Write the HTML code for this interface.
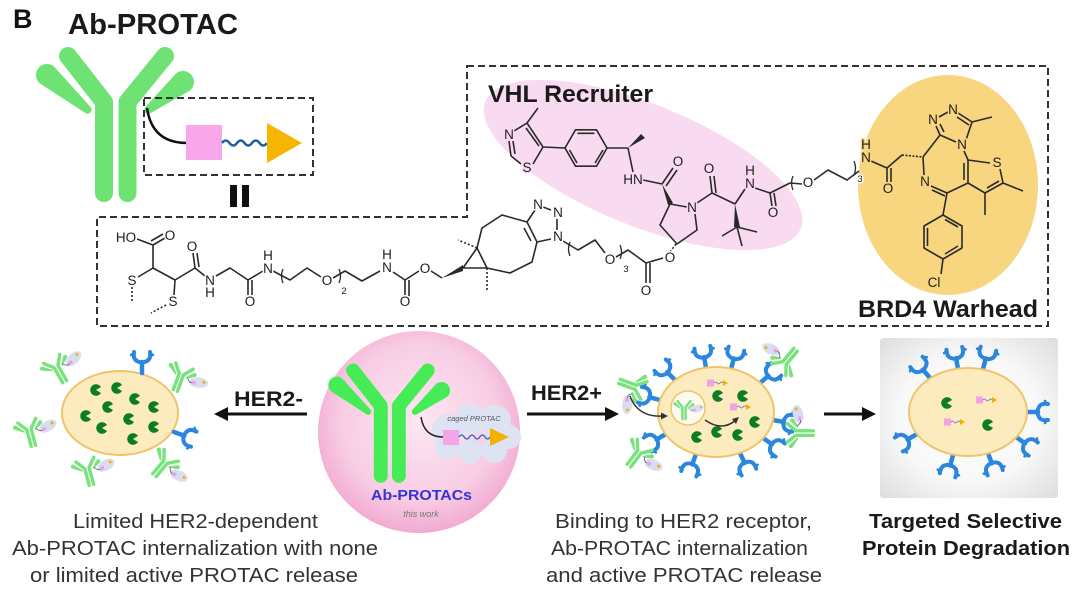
<!DOCTYPE html>
<html><head><meta charset="utf-8">
<style>
html,body{margin:0;padding:0;background:#fff;}
svg{display:block;}
text{font-family:"Liberation Sans",Arial,sans-serif;}
.a{font-size:13.5px;fill:#1e1e1e;text-anchor:middle;paint-order:stroke;stroke-width:3px;stroke-linejoin:round;}
.w{stroke:#fff;} .p{stroke:#f9dbf1;} .o{stroke:#f8d57f;}
.sm{font-size:9.5px;}
</style></head><body>
<svg width="1080" height="599" viewBox="0 0 1080 599" xmlns="http://www.w3.org/2000/svg">
<defs>
 <radialGradient id="pc" cx="50%" cy="45%" r="55%">
  <stop offset="0" stop-color="#fde6f2"/><stop offset="0.7" stop-color="#f8cde4"/><stop offset="1" stop-color="#f1aad1"/>
 </radialGradient>
 <radialGradient id="gb" cx="50%" cy="50%" r="72%">
  <stop offset="0" stop-color="#ffffff"/><stop offset="0.55" stop-color="#f8f8f8"/><stop offset="1" stop-color="#dcdcdc"/>
 </radialGradient>
 <g id="ab">
  <path d="M-61.9,-56.4 L-25.4,-16 A4,4 0 0 1 -30.6,-10 L-76.2,-39.6 A11,11 0 0 1 -61.9,-56.4 Z" stroke="none"/>
  <path d="M60.1,-49.6 L29.5,-16.1 A4,4 0 0 0 34.5,-9.9 L73.9,-32.4 A11,11 0 0 0 60.1,-49.6 Z" stroke="none"/>
  <path d="M-48,-67 L-12,-21 L-12,70 M11.5,70 L11.5,-21 L49,-67" fill="none" stroke-width="18" stroke-linecap="round" stroke-linejoin="round"/>
 </g>
 <g id="sab">
  <use href="#ab" transform="scale(0.19)" fill="#78e27c" stroke="#78e27c"/>
  <ellipse cx="19" cy="-2" rx="9.5" ry="5.2" fill="#d9ddf3" transform="rotate(-15 19 -2)"/>
  <path d="M7,-3 Q10,2 14,0" stroke="#555" stroke-width="0.7" fill="none"/>
  <rect x="13" y="-2" width="3.5" height="3.5" fill="#f39de4"/>
  <circle cx="24" cy="-4" r="1.5" fill="#f2b400"/>
 </g>
 <g id="rec" fill="none" stroke="#2a87dd" stroke-linecap="round" stroke-linejoin="round">
  <path d="M0,0 V-11" stroke-width="4.5"/>
  <path d="M-8,-21 Q-9,-14 -5,-12 Q0,-9 5,-12 Q9,-14 8,-21" stroke-width="4"/>
  <path d="M-8,-20 L-11,-18 M8,-20 L11,-18" stroke-width="2.5"/>
 </g>
 <path id="dot" d="M0,0 L5,-3 A5.8,5.8 0 1,0 5,3 Z" fill="#0c7d22"/>
 <g id="pay">
  <rect x="0" y="-3.5" width="7" height="7" fill="#f3a0e6"/>
  <path d="M7,0 q1.5,-2 3,0 t3,0 t3,0" stroke="#4a7cc0" stroke-width="0.8" fill="none"/>
  <path d="M16,-3 L21,0 L16,3 Z" fill="#f2b000"/>
 </g>
</defs>

<!-- Headings -->
<text x="13" y="28" font-size="27" font-weight="bold" fill="#111">B</text>
<text x="68" y="34" font-size="28.5" font-weight="bold" fill="#1a1a1a" textLength="170" lengthAdjust="spacingAndGlyphs">Ab-PROTAC</text>

<!-- top antibody -->
<use href="#ab" transform="translate(116,123)" fill="#6ee374" stroke="#6ee374"/>

<!-- small dashed box -->
<rect x="144" y="98" width="169" height="77" fill="none" stroke="#333" stroke-width="2" stroke-dasharray="7,4"/>
<path d="M147,108 Q152,143 187,143" stroke="#111" stroke-width="2.5" fill="none"/>
<rect x="186" y="125" width="36" height="35" fill="#f8a8ea"/>
<path d="M222,143 q3.75,-5 7.5,0 t7.5,0 t7.5,0 t7.5,0 t7.5,0 t7.5,0" stroke="#1d5fa0" stroke-width="2.5" fill="none"/>
<path d="M267,123 L302,143 L267,163 Z" fill="#f6b500"/>
<rect x="230" y="185" width="7" height="22" fill="#111"/>
<rect x="242" y="185" width="7" height="22" fill="#111"/>

<!-- big dashed outline -->
<path d="M467,66 L1048,66 L1048,326 L97,326 L97,217 L467,217 Z" fill="none" stroke="#333" stroke-width="2" stroke-dasharray="7,4"/>

<!-- highlight ellipses -->
<ellipse cx="643" cy="165" rx="170" ry="61" transform="rotate(22 643 165)" fill="#f9dbf1"/>
<ellipse cx="948" cy="185" rx="90" ry="110" fill="#f8d57f"/>
<text x="488" y="102" font-size="24" font-weight="bold" fill="#1a1a1a" textLength="165" lengthAdjust="spacingAndGlyphs">VHL Recruiter</text>
<text x="858" y="317" font-size="24" font-weight="bold" fill="#1a1a1a" textLength="180" lengthAdjust="spacingAndGlyphs">BRD4 Warhead</text>

<!-- chemical structure bonds -->
<g stroke="#2a2a2a" stroke-width="1.6" fill="none" stroke-linejoin="round">
 <path d="M137,239 L153,245 M153,245 L153,268 M153,268 L138,277 M153,268 L175,280 M175,280 L174,295 M175,280 L195,268 M195,268 L205,276 M216,276 L230,268 L248,280 M248,280 L263,271 M273,271 L290,280 L307,268 L321,277 M333,278 L345,271 L362,281 L380,271 M393,272 L405,280 M405,280 L419,271 M431,271 L442,278"/>
 <path d="M153,245 L165,238 M151,241 L163,234 M195,268 L193,253 M199,267 L197,253 M248,280 L248,295 M252,280 L252,295 M405,280 L405,296 M409,280 L409,296"/>
 <path d="M463,268 L477,248 L487,268 Z M477,248 L482,228 L502,215 L527,222 L537,242 L532,262 L510,273 L487,268 M524,228 L531,241"/>
 <path d="M527,222 L535,210 M543,207 L551,210 M557,219 L557,230 M551,239 L537,242 M563,241 L578,250 L595,240 L605,253 M616,257 L628,250 L646,263 M646,263 L663,258 M646,263 L646,283 M650,263 L650,283"/>
 <path d="M132,287 L132,303 M166,305 L151,313 M477,248 L458,240 M487,268 L487,290 M670,252 L676,244" stroke-dasharray="2,2"/>
 <path d="M283,269 Q280,276 283,283 M339,269 Q342,276 339,283 M570,242 Q567,249 570,256 M620,245 Q623,252 620,259 M793,176 Q790,183 793,190 M854,161 Q857,168 854,175" stroke-width="1.3"/>
 <!-- VHL -->
 <path d="M527,123 L514,131 M509,141 L511,156 M513,141 L515,154 M511,156 L521,164 M533,164 L543,147 M543,147 L527,123 M539,146 L526,128 M527,123 L538,108 M543,147 L565,148"/>
 <path d="M607,148 L596.5,166.2 L575.5,166.2 L565,148 L575.5,129.8 L596.5,129.8 Z M577.5,133.3 L594.5,133.3 M603,150 L595,163 M577,163 L569.5,150"/>
 <path d="M607,148 L628,148 M628,148 L633,172 M643,180 L662,184 M662,184 L673,168 M666,186 L677,170"/>
 <path d="M670,204 L687,207 M695,214 L697,230 L677,244 L660,225 L670,204 M697,203 L712,193 M712,193 L710,176 M716,193 L714,176 M712,193 L735,204 M737,227 L722,236 M737,227 L742,246 M737,227 L757,232 M735,204 L745,189 M755,188 L770,193 M770,193 L772,206 M774,193 L776,206 M770,193 L790,183 L802,184 M814,180 L828,170 L847,180 L859,171"/>
 <!-- BRD4 -->
 <path d="M871,161 L887,168 M887,168 L887,182 M891,168 L891,182 M887,168 L902,155 M923,157 L924,175 M931,186 L947,193 M932,190 L945,196 M947,193 L968,183 L968,160 L964,151 M956,142 L940,135 L923,157 M964,180 L964,163"/>
 <path d="M902,155 L923,157" stroke-dasharray="2,1.5"/>
 <path d="M940,135 L936,126 M944,132 L940,124 M939,117 L948,112 M958,113 L972,122 M957,117 L969,125 M972,122 L966,140 M972,122 L992,117"/>
 <path d="M968,160 L990,163 M1000,169 L1003,183 L985,193 L968,183 M999,181 L987,188 M1003,183 L1023,191 M985,193 L985,215 M947,193 L943,215"/>
 <path d="M943,215 L962,226 L962,248 L943,259 L924,248 L924,226 Z M945,219.5 L958,227 M958,246 L945,254 M927.5,246 L927.5,228 M943,259 L941,274"/>
</g>
<g fill="#2a2a2a">
 <path d="M442,278 L463,265 L463,271 Z M628,148 L641,134 L645,138 Z M662,184 L668,205 L673,203 Z M735,204 L734,227 L740,227 Z"/>
</g>
<!-- atom labels -->
<g>
 <text class="a w" x="126" y="242">HO</text><text class="a w" x="170" y="240">O</text>
 <text class="a w" x="132" y="285">S</text><text class="a w" x="173" y="306">S</text>
 <text class="a w" x="192" y="251">O</text><text class="a w" x="210" y="285">N</text><text class="a w" x="210" y="297">H</text>
 <text class="a w" x="250" y="306">O</text><text class="a w" x="268" y="260">H</text><text class="a w" x="268" y="273">N</text>
 <text class="a w" x="327" y="285">O</text><text class="a w sm" x="344" y="294">2</text>
 <text class="a w" x="387" y="259">H</text><text class="a w" x="387" y="272">N</text>
 <text class="a w" x="405" y="306">O</text><text class="a w" x="425" y="273">O</text>
 <text class="a w" x="538" y="209">N</text><text class="a w" x="558" y="217">N</text><text class="a w" x="558" y="241">N</text>
 <text class="a w" x="610" y="264">O</text><text class="a w sm" x="626" y="272">3</text>
 <text class="a w" x="646" y="295">O</text><text class="a w" x="670" y="262">O</text>
 <text class="a p" x="509" y="139">N</text><text class="a p" x="527" y="172">S</text>
 <text class="a p" x="633" y="184">HN</text><text class="a p" x="678" y="166">O</text>
 <text class="a p" x="692" y="212">N</text><text class="a p" x="709" y="173">O</text>
 <text class="a p" x="750" y="175">H</text><text class="a p" x="750" y="188">N</text><text class="a p" x="773" y="217">O</text>
 <text class="a w" x="808" y="187">O</text><text class="a w sm" x="860" y="182">3</text>
 <text class="a o" x="866" y="149">H</text><text class="a o" x="866" y="162">N</text>
 <text class="a o" x="888" y="193">O</text><text class="a o" x="925" y="186">N</text>
 <text class="a o" x="933" y="124">N</text><text class="a o" x="953" y="114">N</text><text class="a o" x="962" y="149">N</text>
 <text class="a o" x="997" y="167">S</text><text class="a o" x="934" y="287">Cl</text>
</g>

<!-- ===== bottom ===== -->
<!-- left cell -->
<ellipse cx="120" cy="413" rx="58" ry="42" fill="#fdebc0" stroke="#efc46a" stroke-width="2"/>
<use href="#dot" x="96" y="390"/><use href="#dot" x="117" y="388"/><use href="#dot" x="135" y="399"/>
<use href="#dot" x="154" y="407"/><use href="#dot" x="108" y="407"/><use href="#dot" x="86" y="416"/>
<use href="#dot" x="129" y="419"/><use href="#dot" x="102" y="428"/><use href="#dot" x="154" y="427"/>
<use href="#dot" x="133" y="439"/>
<use href="#rec" transform="translate(142,373)"/>
<use href="#rec" transform="translate(174,432) rotate(110)"/>
<use href="#sab" transform="translate(58,370) rotate(-30)"/>
<use href="#sab" transform="translate(180,378) rotate(20)"/>
<use href="#sab" transform="translate(30,433) rotate(-15)"/>
<use href="#sab" transform="translate(88,472) rotate(-15)"/>
<use href="#sab" transform="translate(163,465) rotate(40)"/>

<!-- HER2- arrow -->
<text x="234" y="406" font-size="21" font-weight="bold" fill="#1a1a1a" textLength="69" lengthAdjust="spacingAndGlyphs">HER2-</text>
<path d="M307,414 L226,414" stroke="#111" stroke-width="3"/>
<path d="M214,414 L228,407 L228,421 Z" fill="#111"/>

<!-- pink circle -->
<circle cx="419" cy="432" r="101" fill="url(#pc)"/>
<use href="#ab" transform="translate(390,422) scale(0.77)" fill="#45ec55" stroke="#45ec55"/>
<g fill="#dde3f3">
 <circle cx="448" cy="430" r="16"/><circle cx="470" cy="419" r="15"/><circle cx="495" cy="421" r="16"/>
 <circle cx="509" cy="437" r="12"/><circle cx="494" cy="450" r="13"/><circle cx="470" cy="452" r="12"/><circle cx="447" cy="447" r="12"/>
</g>
<text x="474" y="421" font-size="7.5" font-style="italic" fill="#555" text-anchor="middle">caged PROTAC</text>
<path d="M421,417 Q424,437 443,437" stroke="#222" stroke-width="1.5" fill="none"/>
<rect x="443" y="430" width="16" height="15" fill="#f6a4e8"/>
<path d="M459,437 q2.6,-4 5.2,0 t5.2,0 t5.2,0 t5.2,0 t5.2,0 t5.2,0" stroke="#2a6cb4" stroke-width="1.3" fill="none"/>
<path d="M490,428 L509,437 L490,446 Z" fill="#f5b000"/>
<text x="371" y="500" font-size="14.5" font-weight="bold" fill="#3434d6" textLength="101" lengthAdjust="spacingAndGlyphs">Ab-PROTACs</text>
<text x="421" y="517" font-size="9" font-style="italic" fill="#777" text-anchor="middle">this work</text>

<!-- HER2+ arrow -->
<text x="531" y="400" font-size="21" font-weight="bold" fill="#1a1a1a" textLength="71" lengthAdjust="spacingAndGlyphs">HER2+</text>
<path d="M527,414 L606,414" stroke="#111" stroke-width="3"/>
<path d="M619,414 L605,407 L605,421 Z" fill="#111"/>

<!-- middle cell -->
<use href="#rec" transform="translate(675,380) rotate(-45)"/>
<use href="#rec" transform="translate(706,368) rotate(-10)"/>
<use href="#rec" transform="translate(731,369) rotate(15)"/>
<use href="#rec" transform="translate(760,383) rotate(50)"/>
<use href="#rec" transform="translate(660,400) rotate(-75)"/>
<use href="#rec" transform="translate(666,434) rotate(240)"/>
<use href="#rec" transform="translate(696,454) rotate(200)"/>
<use href="#rec" transform="translate(740,453) rotate(155)"/>
<use href="#rec" transform="translate(763,438) rotate(125)"/>
<use href="#rec" transform="translate(773,420) rotate(100)"/>
<ellipse cx="716" cy="412" rx="58" ry="45" fill="#fdebc0" stroke="#efc46a" stroke-width="2"/>
<circle cx="688" cy="408" r="17" fill="#fffaf0" stroke="#efc46a" stroke-width="1.5"/>
<use href="#sab" transform="translate(684,410) scale(0.7)"/>
<use href="#pay" x="707" y="383"/><use href="#pay" x="730" y="407"/>
<use href="#dot" x="718" y="396"/><use href="#dot" x="743" y="396"/><use href="#dot" x="755" y="422"/>
<use href="#dot" x="697" y="437"/><use href="#dot" x="717" y="432"/><use href="#dot" x="738" y="435"/>
<use href="#sab" transform="translate(632,386) rotate(110)"/>
<use href="#sab" transform="translate(787,360) rotate(220)"/>
<use href="#sab" transform="translate(800,433) rotate(270)"/>
<use href="#sab" transform="translate(637,455) rotate(37)"/>
<g stroke="#333" stroke-width="1.5" fill="none">
 <path d="M630,396 Q638,418 664,416"/>
 <path d="M705,420 Q722,432 736,420"/>
</g>
<path d="M668,416 L661,412.5 L661,419.5 Z" fill="#333"/>
<path d="M739,417 L732,419 L736,424 Z" fill="#333"/>

<!-- arrow to right -->
<path d="M824,414 L863,414" stroke="#111" stroke-width="3"/>
<path d="M876,414 L862,407 L862,421 Z" fill="#111"/>

<!-- right box -->
<rect x="880" y="338" width="178" height="160" rx="3" fill="url(#gb)"/>
<use href="#rec" transform="translate(930,378) rotate(-40)"/>
<use href="#rec" transform="translate(958,369) rotate(-10)"/>
<use href="#rec" transform="translate(983,369) rotate(15)"/>
<use href="#rec" transform="translate(1027,412) rotate(90)"/>
<use href="#rec" transform="translate(917,434) rotate(240)"/>
<use href="#rec" transform="translate(953,455) rotate(195)"/>
<use href="#rec" transform="translate(988,453) rotate(160)"/>
<use href="#rec" transform="translate(1016,437) rotate(125)"/>
<ellipse cx="968" cy="412" rx="59" ry="44" fill="#fdebc0" stroke="#efc46a" stroke-width="2"/>
<use href="#dot" x="947" y="403"/><use href="#dot" x="988" y="425"/>
<use href="#pay" x="976" y="400"/><use href="#pay" x="944" y="422"/>

<!-- bottom captions -->
<g font-size="20" fill="#333">
 <text x="73" y="528" textLength="245" lengthAdjust="spacingAndGlyphs">Limited HER2-dependent</text>
 <text x="12" y="555" textLength="366" lengthAdjust="spacingAndGlyphs">Ab-PROTAC internalization with none</text>
 <text x="30" y="582" textLength="328" lengthAdjust="spacingAndGlyphs">or limited active PROTAC release</text>
 <text x="555" y="528" textLength="257" lengthAdjust="spacingAndGlyphs">Binding to HER2 receptor,</text>
 <text x="551" y="555" textLength="257" lengthAdjust="spacingAndGlyphs">Ab-PROTAC internalization</text>
 <text x="546" y="582" textLength="276" lengthAdjust="spacingAndGlyphs">and active PROTAC release</text>
</g>
<g font-size="20" font-weight="bold" fill="#1a1a1a">
 <text x="869" y="528" textLength="193" lengthAdjust="spacingAndGlyphs">Targeted Selective</text>
 <text x="862" y="555" textLength="208" lengthAdjust="spacingAndGlyphs">Protein Degradation</text>
</g>
</svg>
</body></html>
